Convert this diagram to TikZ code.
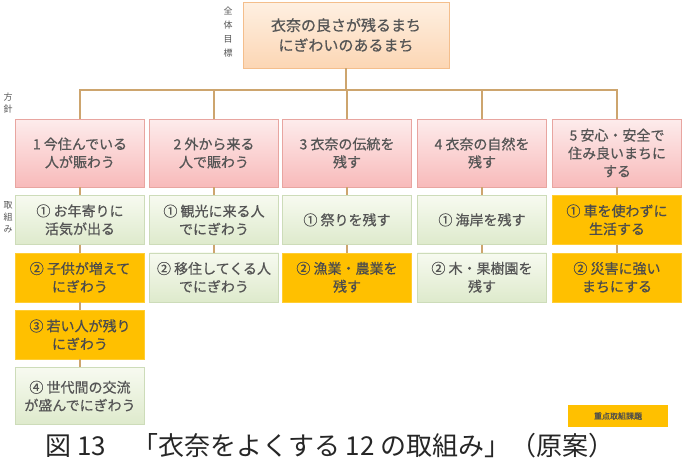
\documentclass[tikz,border=0pt]{standalone}
\usepackage{fontspec}
\setmainfont{Noto Sans CJK JP}
\newfontfamily\boxfont{Noto Sans CJK JP}[FakeBold=0.6]
\usetikzlibrary{positioning}
\definecolor{cText}{RGB}{85,85,85}
\definecolor{cPeachT}{RGB}{254,240,226}
\definecolor{cPeachB}{RGB}{252,214,180}
\definecolor{cPeachL}{RGB}{244,190,140}
\definecolor{cPinkT}{RGB}{253,236,236}
\definecolor{cPinkB}{RGB}{248,186,186}
\definecolor{cPinkL}{RGB}{232,165,160}
\definecolor{cGreenT}{RGB}{247,250,240}
\definecolor{cGreenB}{RGB}{222,234,204}
\definecolor{cGreenL}{RGB}{205,220,185}
\definecolor{cOrange}{RGB}{255,192,0}
\definecolor{cLine}{RGB}{205,165,110}
\tikzset{
  basebox/.style={rectangle,align=center,text=cText,inner sep=2pt,
                  font=\boxfont\fontsize{14}{18}\selectfont},
  topnode/.style={basebox,top color=cPeachT,bottom color=cPeachB,draw=cPeachL,
                  minimum width=206pt,minimum height=66pt,font=\boxfont\fontsize{15}{20}\selectfont},
  policynode/.style={basebox,top color=cPinkT,bottom color=cPinkB,draw=cPinkL,
                     minimum width=129pt,minimum height=68pt},
  greennode/.style={basebox,top color=cGreenT,bottom color=cGreenB,draw=cGreenL,
                    minimum width=129pt,minimum height=49pt},
  orangenode/.style={basebox,fill=cOrange,draw=cOrange!80!white,text=black!70,
                     minimum width=129pt,minimum height=49pt},
  legendnode/.style={basebox,fill=cOrange,text=black!70,minimum width=100pt,
                     minimum height=22pt,font=\boxfont\fontsize{8}{10}\selectfont},
  sidelbl/.style={align=center,text=cText,font=\fontsize{9}{12}\selectfont,inner sep=0pt},
  conn/.style={draw=cLine,line width=1.6pt}
}
\begin{document}
\begin{tikzpicture}[x=1pt,y=-1pt]
  \useasboundingbox (0,0) rectangle (689,472);

  % overall goal
  \node[topnode] (goal) at (346,35)
      {衣奈の良さが残るまち\\にぎわいのあるまち};
  \node[sidelbl,font=\fontsize{9}{14}\selectfont] (lgoal) at (228,32) {全\\体\\目\\標};

  % policies
  \node[policynode] (p1) at (80,153) {1 今住んでいる\\人が賑わう};
  \node[policynode] (p2) at (214,153) {2 外から来る\\人で賑わう};
  \node[policynode] (p3) at (347,153) {3 衣奈の伝統を\\残す};
  \node[policynode] (p4) at (482,153) {4 衣奈の自然を\\残す};
  \node[policynode] (p5) at (617,153) {5 安心・安全で\\住み良いまちに\\する};
  \node[sidelbl] (lpol) at (8,103) {方\\針};

  % actions
  \node[greennode,below=8pt of p1] (a11) {① お年寄りに\\活気が出る};
  \node[orangenode,below=8pt of a11] (a12) {② 子供が増えて\\にぎわう};
  \node[orangenode,below=8pt of a12] (a13) {③ 若い人が残り\\にぎわう};
  \node[greennode,below=8pt of a13,minimum height=57pt] (a14) {④ 世代間の交流\\が盛んでにぎわう};

  \node[greennode,below=8pt of p2] (a21) {① 観光に来る人\\でにぎわう};
  \node[greennode,below=8pt of a21] (a22) {② 移住してくる人\\でにぎわう};

  \node[greennode,below=8pt of p3] (a31) {① 祭りを残す};
  \node[orangenode,below=8pt of a31] (a32) {② 漁業・農業を\\残す};

  \node[greennode,below=8pt of p4] (a41) {① 海岸を残す};
  \node[greennode,below=8pt of a41] (a42) {② 木・果樹園を\\残す};

  \node[orangenode,below=8pt of p5] (a51) {① 車を使わずに\\生活する};
  \node[orangenode,below=8pt of a51] (a52) {② 災害に強い\\まちにする};
  \node[sidelbl] (lact) at (8,217) {取\\組\\み};

  % connectors
  \coordinate (bar) at (346,90);
  \draw[conn] (goal.south) -- (bar);
  \draw[conn] (p1.north) |- (bar -| p5.north) -- (p5.north);
  \foreach \p in {p2,p3,p4} \draw[conn] (\p.north) -- (\p.north |- bar);
  \foreach \a/\b in {p1/a11,a11/a12,a12/a13,a13/a14,p2/a21,a21/a22,
                     p3/a31,a31/a32,p4/a41,a41/a42,p5/a51,a51/a52}
    \draw[conn] (\a.south) -- (\b.north);

  % legend and caption
  \node[legendnode] (legend) at (618,416) {重点取組課題};
  \node[text=black!85,font=\fontsize{26}{30}\selectfont] (cap) at (330,446)
      {図 13　「衣奈をよくする 12 の取組み」（原案）};
\end{tikzpicture}
\end{document}
